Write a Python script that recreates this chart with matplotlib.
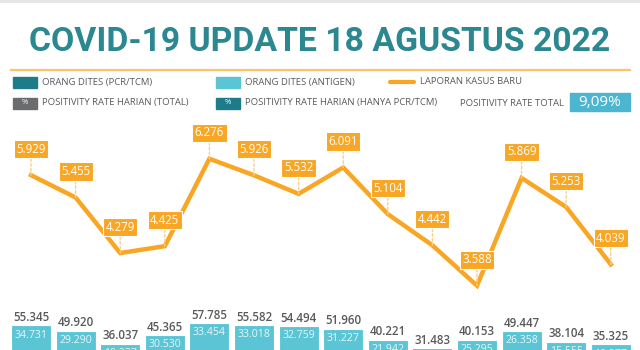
import numpy as np
import matplotlib
matplotlib.use("Agg")
import matplotlib.pyplot as plt
from matplotlib.patches import Rectangle
from matplotlib.lines import Line2D
from matplotlib.transforms import Affine2D

plt.rcParams['font.family'] = ['Open Sans', 'DejaVu Sans']

# data, 14 days up to 18 Aug 2022
kasus_baru = [5929, 5455, 4279, 4425, 6276, 5926, 5532, 6091, 5104, 4442, 3588, 5869, 5253, 4039]
dites_total = [55345, 49920, 36037, 45365, 57785, 55582, 54494, 51960, 40221, 31483, 40153, 49447, 38104, 35325]
dites_antigen = [34731, 29290, 19227, 30530, 33454, 33018, 32759, 31227, 21942, 17410, 25295, 26358, 15555, 19277]
dites_pcr = [t - a for t, a in zip(dites_total, dites_antigen)]
positivity_total = "9,09%"

teal_title = '#2b8790'
c_pcr = '#1e7c88'
c_antigen = '#5bc5d5'
c_orange = '#f8a623'
c_orange_lt = '#f9cf8c'
c_gray = '#6b6c6e'
c_text = '#58595b'
c_box = '#4cb5cf'


def fmt(v):
    return f"{v:,}".replace(',', '.')


fig = plt.figure(figsize=(6.4, 3.5), dpi=100)
fig.patch.set_facecolor('white')
# pixel coords (from top-left) -> figure fraction
px = Affine2D().scale(1 / 640, -1 / 350).translate(0, 1) + fig.transFigure

# header
fig.add_artist(Line2D([0, 640], [1, 1], transform=px, color='#e4e4e4', lw=2))
title = fig.text(320, 42, "COVID-19 UPDATE 18 AGUSTUS 2022", transform=px, ha='center', va='center',
                 fontsize=30, fontweight='bold', color=teal_title,
                 family=['Roboto', 'DejaVu Sans'])
# shrink the title until it spans about 580 px
fig.canvas.draw()
w = title.get_window_extent().width
title.set_fontsize(30 * 582 / w)
fig.add_artist(Line2D([11, 630], [70, 70], transform=px, color='#f9c46b', lw=1.6))

# legend
def swatch(x, y, color, pct=False):
    fig.add_artist(Rectangle((x, y - 5.5), 24, 11, transform=px, color=color))
    if pct:
        fig.text(x + 12, y, "%", transform=px, ha='center', va='center', fontsize=5.5, color='white')

def label(x, y, s):
    fig.text(x, y, s, transform=px, ha='left', va='center', fontsize=6.8, color=c_text)

swatch(13, 82, c_pcr)
label(42, 82, "ORANG DITES (PCR/TCM)")
swatch(216, 82, c_antigen)
label(245, 82, "ORANG DITES (ANTIGEN)")
fig.add_artist(Line2D([390, 414], [82, 82], transform=px, color=c_orange, lw=3, solid_capstyle='round'))
label(420, 82, "LAPORAN KASUS BARU")
swatch(13, 103, c_gray, pct=True)
label(42, 103, "POSITIVITY RATE HARIAN (TOTAL)")
swatch(216, 103, c_pcr, pct=True)
label(245, 103, "POSITIVITY RATE HARIAN (HANYA PCR/TCM)")
label(460, 103, "POSITIVITY RATE TOTAL")
fig.add_artist(Rectangle((570, 93), 60, 18, transform=px, color=c_box))
fig.text(600, 102, positivity_total, transform=px, ha='center', va='center', fontsize=11, color='white')

# chart area
x = np.arange(len(kasus_baru))
ax = fig.add_axes([0, 0, 1, 235 / 350])
ax.set_xlim(-31 / 44.6, (640 - 31) / 44.6)
ax.set_ylim(29500, 277000)
ax.axis('off')

ax.bar(x, dites_pcr, width=0.9, color=c_pcr, edgecolor='white', lw=0.8)
ax.bar(x, dites_antigen, bottom=dites_pcr, width=0.9, color=c_antigen, edgecolor='white', lw=0.8)
for i in x:
    ax.annotate(fmt(dites_total[i]), (i, dites_total[i]), xytext=(0, 1), textcoords='offset points',
                ha='center', va='bottom', fontsize=8.3, color=c_text, fontweight='semibold')
    ax.annotate(fmt(dites_antigen[i]), (i, dites_total[i]), xytext=(0, -3), textcoords='offset points',
                ha='center', va='top', fontsize=7.6, color='#e6f6f9')

ax2 = ax.twinx()
ax2.set_ylim(2225, 7203)
ax2.axis('off')
ax2.plot(x, kasus_baru, color=c_orange, lw=3.2, solid_joinstyle='miter', zorder=3)
for i in x:
    ax2.annotate(fmt(kasus_baru[i]), (i, kasus_baru[i]), xytext=(0, 26), textcoords='offset pixels',
                 ha='center', va='center', fontsize=8.3, color='white',
                 bbox=dict(boxstyle='square,pad=0.22', fc=c_orange, ec='white', lw=0.8),
                 arrowprops=dict(arrowstyle='-', color=c_orange_lt, lw=1, ls=(0, (2, 1.5)),
                                 shrinkA=0, shrinkB=0))

fig.savefig("out.png", dpi=100)
